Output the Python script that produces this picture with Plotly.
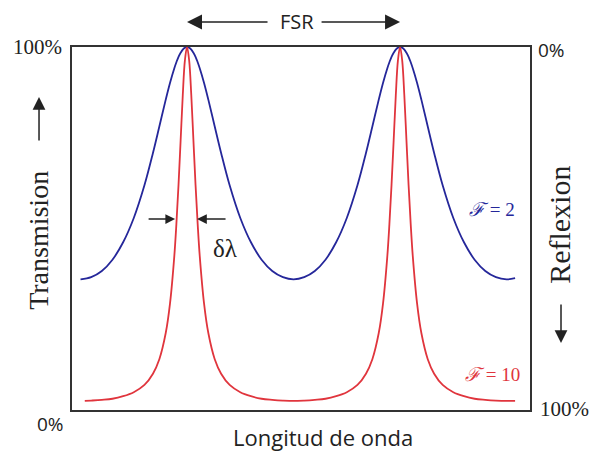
import plotly.graph_objects as go

# Wavelength positions (FSR = 1 unit, peaks at 1 and 2)
x_blue = [0.50, 0.55, 0.60, 0.65, 0.70, 0.75, 0.80, 0.84, 0.87, 0.90, 0.92, 0.94, 0.95, 0.96, 0.97, 0.98, 0.99, 1.00,
          1.01, 1.02, 1.03, 1.04, 1.05, 1.06, 1.08, 1.10, 1.13, 1.16, 1.20, 1.25, 1.30, 1.35, 1.40, 1.45, 1.50,
          1.55, 1.60, 1.65, 1.70, 1.75, 1.80, 1.84, 1.87, 1.90, 1.92, 1.94, 1.95, 1.96, 1.97, 1.98, 1.99, 2.00,
          2.01, 2.02, 2.03, 2.04, 2.05, 2.06, 2.08, 2.10, 2.13, 2.16, 2.20, 2.25, 2.30, 2.35, 2.40, 2.45, 2.50,
          2.54]
t_blue = [0.360, 0.366, 0.383, 0.414, 0.462, 0.529, 0.619, 0.708, 0.781, 0.855, 0.901, 0.941, 0.958, 0.973, 0.984, 0.993, 0.998, 1.000,
          0.998, 0.993, 0.984, 0.973, 0.958, 0.941, 0.901, 0.855, 0.781, 0.708, 0.619, 0.529, 0.462, 0.414, 0.383, 0.366, 0.360,
          0.366, 0.383, 0.414, 0.462, 0.529, 0.619, 0.708, 0.781, 0.855, 0.901, 0.941, 0.958, 0.973, 0.984, 0.993, 0.998, 1.000,
          0.998, 0.993, 0.984, 0.973, 0.958, 0.941, 0.901, 0.855, 0.781, 0.708, 0.619, 0.529, 0.462, 0.414, 0.383, 0.366, 0.360,
          0.363]

x_red = [0.52, 0.55, 0.60, 0.65, 0.70, 0.75, 0.80, 0.84, 0.87, 0.90, 0.92, 0.94, 0.95, 0.96, 0.97, 0.98, 0.99, 1.00,
         1.01, 1.02, 1.03, 1.04, 1.05, 1.06, 1.08, 1.10, 1.13, 1.16, 1.20, 1.25, 1.30, 1.35, 1.40, 1.45, 1.50,
         1.55, 1.60, 1.65, 1.70, 1.75, 1.80, 1.84, 1.87, 1.90, 1.92, 1.94, 1.95, 1.96, 1.97, 1.98, 1.99, 2.00,
         2.01, 2.02, 2.03, 2.04, 2.05, 2.06, 2.08, 2.10, 2.13, 2.16, 2.20, 2.25, 2.30, 2.35, 2.40, 2.45, 2.50,
         2.54]
t_red = [0.025, 0.026, 0.028, 0.031, 0.038, 0.049, 0.069, 0.100, 0.140, 0.212, 0.293, 0.422, 0.512, 0.620, 0.743, 0.867, 0.963, 1.000,
         0.963, 0.867, 0.743, 0.620, 0.512, 0.422, 0.293, 0.212, 0.140, 0.100, 0.069, 0.049, 0.038, 0.031, 0.028, 0.026, 0.025,
         0.026, 0.028, 0.031, 0.038, 0.049, 0.069, 0.100, 0.140, 0.212, 0.293, 0.422, 0.512, 0.620, 0.743, 0.867, 0.963, 1.000,
         0.963, 0.867, 0.743, 0.620, 0.512, 0.422, 0.293, 0.212, 0.140, 0.100, 0.069, 0.049, 0.038, 0.031, 0.028, 0.026, 0.025,
         0.025]

peaks = [1.0, 2.0]
half_width_marks = [0.944, 1.047]

BLUE = "#25279a"
RED = "#e0353d"
INK = "#222"
SERIF = "Liberation Serif"
SANS = "Open Sans"

fig = go.Figure()
fig.add_trace(go.Scatter(x=x_blue, y=t_blue, mode="lines",
                         line=dict(color=BLUE, width=1.8, shape="spline", smoothing=1.0), showlegend=False))
fig.add_trace(go.Scatter(x=x_red, y=t_red, mode="lines",
                         line=dict(color=RED, width=1.8, shape="spline", smoothing=1.0), showlegend=False))


def label(x, y, text, family, size, color=INK, xref="paper", yref="paper", angle=0):
    return dict(xref=xref, yref=yref, x=x, y=y, text=text, showarrow=False, textangle=angle,
                xanchor="center", yanchor="middle", font=dict(family=family, size=size, color=color))


def arrow(x, y, ax, ay, size, xref="paper", yref="paper"):
    return dict(xref=xref, yref=yref, x=x, y=y, ax=ax, ay=ay, text="", showarrow=True,
                arrowhead=2, arrowsize=size, arrowwidth=1.5, arrowcolor=INK)


ann = [
    label(-0.0764, 1.0, "100%", SERIF, 21),
    label(-0.048, -0.0386, "0%", SANS, 19),
    label(1.046, 0.992, "0%", SANS, 19),
    label(1.076, 0.003, "100%", SERIF, 21),
    label(-0.072, 0.466, "Transmision", SERIF, 28, angle=-90),
    label(1.0655, 0.51, "Reflexion", SERIF, 30, angle=-90),
    arrow(-0.072, 0.862, 0, 45, 1.7),
    arrow(1.0677, 0.1846, 0, -40, 1.7),
    label(0.491, 1.069, "FSR", SANS, 20),
    arrow(peaks[0], 1.069, 82, 0, 2.0, xref="x"),
    arrow(peaks[1], 1.069, -80, 0, 2.0, xref="x"),
    arrow(half_width_marks[0], 0.526, -28, 0, 1.3, xref="x", yref="y"),
    arrow(half_width_marks[1], 0.526, 30, 0, 1.3, xref="x", yref="y"),
    label(1.178, 0.446, "δλ", SERIF, 25, xref="x", yref="y"),
    label(0.548, -0.074, "Longitud de onda", SANS, 22),
    label(2.432, 0.551, "<i>ℱ</i> = 2", SERIF, 19, color=BLUE, xref="x", yref="y"),
    label(2.432, 0.099, "<i>ℱ</i> = 10", SERIF, 19, color=RED, xref="x", yref="y"),
]

fig.update_layout(
    width=590, height=452,
    margin=dict(l=72, r=60, t=47, b=42),
    paper_bgcolor="white", plot_bgcolor="white",
    annotations=ann,
    xaxis=dict(range=[0.460, 2.610], showline=True, mirror=True, linecolor="#333", linewidth=2,
               showgrid=False, zeroline=False, showticklabels=False, ticks=""),
    yaxis=dict(range=[0, 1], showline=True, mirror=True, linecolor="#333", linewidth=2,
               showgrid=False, zeroline=False, showticklabels=False, ticks=""),
)
fig.write_html("out.html", config={"displayModeBar": False},
               post_script="document.body.style.margin='0';")
